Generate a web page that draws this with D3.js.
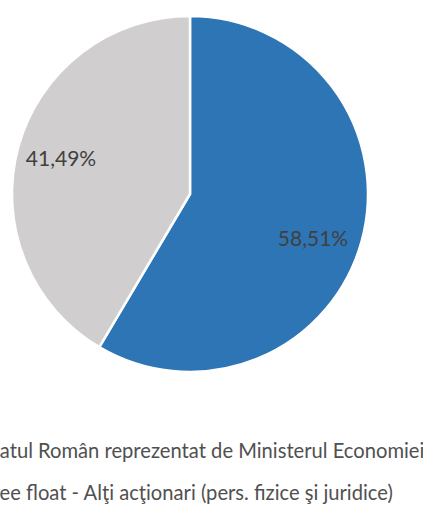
<!DOCTYPE html>
<html><head><meta charset="utf-8">
<script src="https://cdn.jsdelivr.net/npm/d3@7"></script>
<style>body{margin:0;background:#fff}svg{display:block}</style>
</head><body>
<script>
const categories = ["Statul Român reprezentat de Ministerul Economiei", "Free float - Alţi acţionari (pers. fizice şi juridice)"];
const values = [58.51, 41.49];
const labels = ["58,51%", "41,49%"];
const colors = ["#2E75B6", "#D0CECE"];

const W = 423, H = 506;
const FONT = "Lato, 'Open Sans', sans-serif";
const svg = d3.select("body").append("svg").attr("width", W).attr("height", H);
const cx = 190, cy = 194, r = 178;
const pie = d3.pie().sort(null).value(d => d)(values);
const arc = d3.arc().innerRadius(0).outerRadius(r);
const g = svg.append("g").attr("transform", `translate(${cx},${cy})`);
g.selectAll("path").data(pie).join("path")
  .attr("d", arc).attr("fill", (d, i) => colors[i])
  .attr("stroke", "#fff").attr("stroke-width", 2.5).attr("stroke-linejoin", "round");
const labelPos = [[123, 43], [-129, -37]];
g.selectAll("text").data(pie).join("text")
  .attr("x", (d, i) => labelPos[i][0]).attr("y", (d, i) => labelPos[i][1])
  .attr("text-anchor", "middle").attr("dominant-baseline", "central")
  .attr("font-family", FONT).attr("font-size", 21)
  .attr("fill", "#404040").text((d, i) => labels[i]);

// legend: fit so the visible part of line 2 ends where the reference does
const measure = (t, fs) => {
  const n = svg.append("text").attr("font-family", FONT).attr("font-size", fs).text(t);
  const w = n.node().getComputedTextLength(); n.remove(); return w;
};
let fs = 20;
const wFull = measure(categories[1], fs), wFr = measure("Fr", fs);
fs = fs * 393 / (wFull - wFr);
const x0 = -measure("Fr", fs);
const leg = svg.append("g");
leg.selectAll("text").data(categories).join("text")
  .attr("x", x0).attr("y", (d, i) => 458 + i * 42)
  .attr("font-family", FONT).attr("font-size", fs)
  .attr("fill", "#505050").text(d => d);
</script>
</body></html>
